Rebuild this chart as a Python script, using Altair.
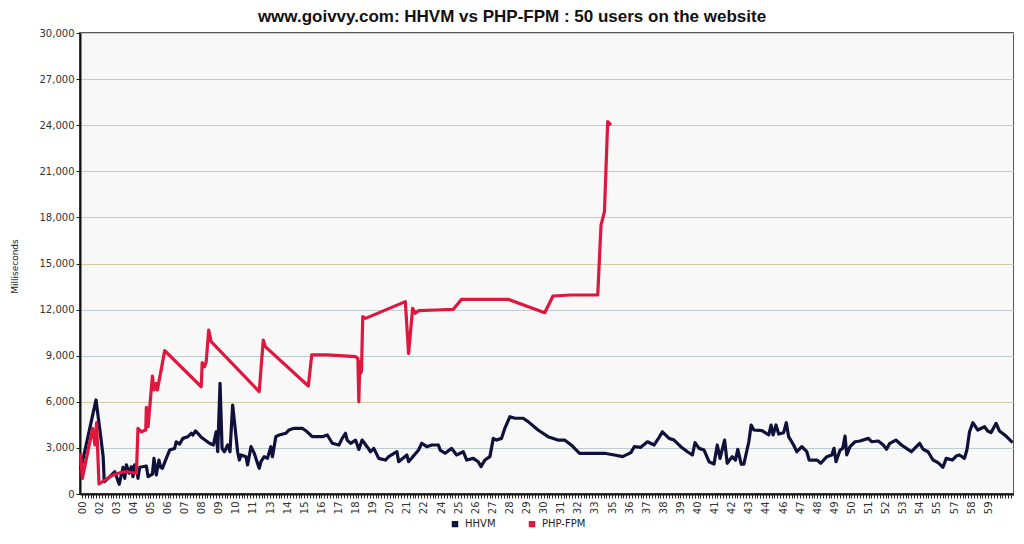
import altair as alt
import pandas as pd

TITLE = "www.goivvy.com: HHVM vs PHP-FPM : 50 users on the website"
SERIES = ["HHVM", "PHP-FPM"]
COLORS = ["#10113a", "#e0163f"]

# x axis: minute labels (as printed on the reference axis)
TICK_LABELS = ["00", "02", "03", "04", "05", "06", "07", "08", "09", "10", "11",
               "13", "14", "15", "16", "17", "18", "19", "20", "21", "22",
               "24", "25", "26", "27", "28", "29", "30", "31", "32", "33",
               "35", "36", "37", "38", "39", "40", "41", "42", "43", "44",
               "46", "47", "48", "49", "50", "51", "52", "53", "54", "55",
               "57", "58", "59"]
TICK_START = 0.95   # minutes
TICK_STEP = 1.1     # minutes between labelled ticks
MINOR_PER_STEP = 6
X_DOMAIN = [0.82, 60.91]
Y_DOMAIN = [0, 30000]
Y_TICKS = [0, 3000, 6000, 9000, 12000, 15000, 18000, 21000, 24000, 27000, 30000]

HHVM_T = [0.86, 1.85, 2.10, 2.31, 2.38, 2.74, 3.06, 3.34, 3.59, 3.70, 3.81, 3.98, 4.13, 4.23,
          4.34, 4.49, 4.55, 4.66, 5.09, 5.20, 5.48, 5.58, 5.73, 5.90, 6.01, 6.12, 6.37, 6.59,
          6.91, 7.01, 7.23, 7.44, 7.76, 7.98, 8.08, 8.25, 8.40, 8.62, 9.15, 9.40, 9.58, 9.68,
          9.83, 9.96, 10.11, 10.32, 10.47, 10.64, 10.79, 10.96, 11.07, 11.18, 11.50, 11.60,
          11.82, 12.03, 12.24, 12.35, 12.46, 12.67, 12.88, 13.10, 13.20, 13.42, 13.63, 14.06,
          14.27, 14.59, 15.12, 15.44, 15.76, 16.41, 16.73, 17.05, 17.48, 17.69, 17.90, 18.01,
          18.23, 18.55, 18.76, 18.97, 19.29, 19.51, 19.72, 20.04, 20.47, 20.68, 21.21, 21.32,
          21.85, 21.96, 22.60, 22.81, 23.13, 23.45, 23.88, 23.99, 24.31, 24.73, 25.05, 25.48,
          25.70, 26.12, 26.44, 26.62, 26.87, 27.19, 27.41, 27.62, 27.94, 28.15, 28.48, 28.80,
          29.33, 29.65, 30.29, 30.93, 31.57, 32.00, 32.42, 32.96, 33.92, 34.56, 35.20, 35.73,
          36.26, 36.48, 36.90, 37.33, 37.76, 38.08, 38.29, 38.72, 39.04, 39.47, 39.90, 40.22,
          40.39, 40.65, 40.97, 41.29, 41.61, 41.82, 42.00, 42.29, 42.46, 42.78, 42.99, 43.14,
          43.36, 43.53, 43.85, 44.00, 44.17, 44.70, 45.13, 45.28, 45.41, 45.60, 45.77, 46.09,
          46.26, 46.41, 46.73, 46.94, 47.26, 47.58, 47.73, 48.23, 48.48, 48.87, 49.19, 49.33,
          49.46, 49.72, 49.89, 50.04, 50.15, 50.36, 50.68, 51.00, 51.54, 51.75, 52.18, 52.50,
          52.71, 52.92, 53.31, 53.67, 53.99, 54.31, 54.63, 54.84, 55.06, 55.38, 55.70, 56.02,
          56.34, 56.55, 56.94, 57.19, 57.40, 57.72, 57.88, 58.05, 58.26, 58.58, 59.01, 59.22,
          59.43, 59.76, 59.97, 60.40, 60.82]
HHVM_MS = [1560, 6120, 4165, 2430, 800, 1130, 1450, 630, 1740, 1020, 1890, 1350, 1780, 1130,
           1890, 1600, 1020, 1740, 1820, 1130, 1300, 2320, 1240, 2210, 1740, 1670, 2320, 2860,
           2970, 3400, 3250, 3620, 3730, 3950, 3840, 4100, 3950, 3690, 3300, 3190, 4050, 2750,
           7200, 2970, 2750, 3190, 2750, 5790, 4380, 2750, 2210, 2540, 2430, 1890,
           3080, 2650, 2000, 1670, 2100, 2430, 2320, 3080, 2430, 3730, 3840, 3950,
           4165, 4275, 4275, 4050, 3730, 3730, 3840, 3300, 3190, 3620, 3950, 3510,
           3300, 3510, 2900, 3510, 3080, 2750, 2970, 2320, 2210, 2430, 2750, 2100,
           2540, 2100, 2860, 3300, 3080, 3190, 3190, 2860, 2650, 2970, 2540, 2750,
           2210, 2320, 2100, 1780, 2210, 2430, 3620, 3510, 3620, 4275, 5030, 4930,
           4930, 4710, 4165, 3730, 3510, 3510, 3190, 2650, 2650, 2650, 2540, 2430,
           2690, 3080, 3040, 3400, 3190, 3690, 4050, 3620, 3510, 3080, 2750, 2540,
           3340, 2970, 2860, 2100, 1950, 3190, 2320, 3510, 2000, 2430, 2210, 2910,
           1950, 1950, 3400, 4490, 4165, 4120, 3840, 4490, 3840, 4490, 3900, 3990,
           4640, 3730, 3190, 2750, 3080, 2750, 2210, 2210, 2000, 2430, 2540, 2970,
           2100, 2860, 2970, 3770, 2540, 3080, 3400, 3450, 3620, 3400, 3450, 3190,
           2910, 3300, 3510, 3190, 2970, 2750, 3080, 3300, 2910, 2750, 2210, 2040,
           1740, 2320, 2210, 2470, 2540, 2320, 2860, 4050, 4640, 4165, 4380, 4100,
           3990, 4600, 4100, 3770, 3340]

PHP_T = [0.86, 0.97, 1.63, 1.78, 1.89, 2.04, 2.95, 3.49, 3.81, 4.45, 4.55, 4.77, 5.05, 5.09,
         5.20, 5.48, 5.58, 5.73, 5.80, 6.27, 8.62, 8.68, 8.83, 8.94, 9.10, 9.26, 12.35, 12.61,
         12.74, 15.51, 15.73, 16.73, 18.55, 18.70, 18.76, 18.82, 18.87, 18.93, 19.01, 19.19,
         21.75, 21.96, 22.22, 22.39, 22.60, 23.67, 24.84, 25.37, 28.36, 30.72, 31.25, 32.42,
         34.13, 34.34, 34.56, 34.77, 34.98]
PHP_MS = [2650, 1020, 4275, 3190, 4640, 650, 1240, 1410, 1450, 1350, 4275, 4050, 4165, 5640,
          4380, 7680, 6770, 7200, 6770, 9330, 6980, 8545, 8285, 8610, 10670, 9910, 6660, 10020,
          9590, 7030, 9050, 9050, 8940, 8800, 6000, 8600, 7850, 8000, 11540, 11430,
          12520, 9150, 12080, 11760, 11930, 11975, 12020, 12670, 12670, 11800, 12885, 12950,
          12950, 17500, 18370, 24230, 24010]

df = pd.concat([
    pd.DataFrame({"t": HHVM_T, "ms": HHVM_MS, "series": SERIES[0]}),
    pd.DataFrame({"t": PHP_T, "ms": PHP_MS, "series": SERIES[1]}),
], ignore_index=True)

minor_step = TICK_STEP / MINOR_PER_STEP
n_minor = (len(TICK_LABELS) - 1) * MINOR_PER_STEP + 9
x_ticks = [round(TICK_START + k * minor_step, 5) for k in range(n_minor + 1)]
labels_js = "[" + ",".join("'%s'" % s for s in TICK_LABELS) + "]"
idx = "((datum.value - %s) / %s)" % (TICK_START, TICK_STEP)
label_expr = ("abs(%s - round(%s)) < 0.01 && round(%s) < %d ? %s[round(%s)] : ''"
              % (idx, idx, idx, len(TICK_LABELS), labels_js, idx))

FONT = "DejaVu Sans"

chart = alt.Chart(df).mark_line(strokeWidth=3.2, strokeJoin="round").encode(
    x=alt.X("t:Q",
            scale=alt.Scale(domain=X_DOMAIN, nice=False, zero=False),
            axis=alt.Axis(values=x_ticks, labelExpr=label_expr, labelAngle=270,
                          labelOverlap=False, labelFlush=False, grid=False, title=None,
                          labelFont=FONT, labelFontSize=10, labelColor="#333",
                          tickSize=4, tickColor="#222", tickWidth=1,
                          domainColor="#111", domainWidth=2, labelPadding=3)),
    y=alt.Y("ms:Q",
            scale=alt.Scale(domain=Y_DOMAIN, nice=False),
            axis=alt.Axis(values=Y_TICKS, format=",d", title="Milliseconds",
                          labelFont=FONT, labelFontSize=10, labelColor="#333",
                          tickSize=4, tickColor="#222", domainColor="#111", domainWidth=2,
                          labelPadding=2, titleFont=FONT, titleFontSize=9,
                          titleFontWeight="normal", titleColor="#222",
                          titleAngle=270, titleX=-66, titleY=233,
                          titleAlign="center", titleBaseline="middle",
                          gridColor={"condition": {"test": "datum.value % 9000 == 6000",
                                                   "value": "#cfcca8"},
                                     "value": "#bfcdd0"},
                          gridWidth=1)),
    color=alt.Color("series:N",
                    scale=alt.Scale(domain=SERIES, range=COLORS),
                    legend=alt.Legend(title=None, orient="none", legendX=370, legendY=486,
                                      direction="horizontal", symbolType="square",
                                      symbolSize=12, symbolStrokeWidth=3,
                                      labelFont=FONT, labelFontSize=10, labelColor="#222",
                                      columnPadding=28, labelOffset=5, padding=0)),
).properties(
    width=934,
    height=461,
    title=alt.TitleParams(TITLE, font="Liberation Sans", fontSize=17,
                          fontWeight="bold", color="#111", anchor="middle", offset=2,
                          dx=-35),
    autosize=alt.AutoSizeParams(type="none"),
    padding={"left": 72, "top": 25, "right": 0, "bottom": 42},
    background="white",
).configure_view(
    fill="#f8f8f8", stroke="#5a5a5a", strokeWidth=2,
)

chart.save("out.html", embed_options={"renderer": "svg", "actions": False})
